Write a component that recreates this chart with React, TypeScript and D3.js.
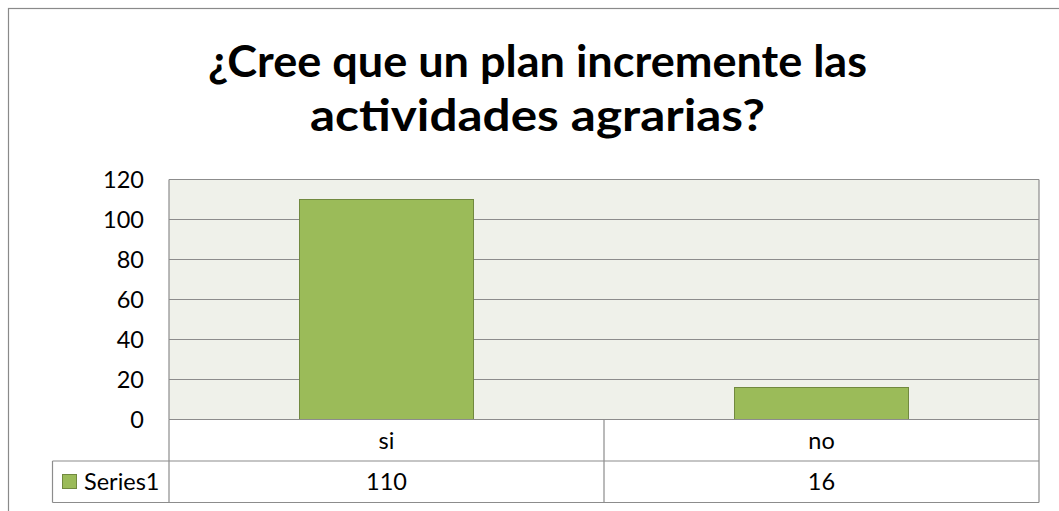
import React from "react";
import * as d3 from "d3";

const titleLines = ["¿Cree que un plan incremente las", "actividades agrarias?"];
const categories = ["si", "no"];
const series1 = [110, 16];
const seriesName = "Series1";
const yTicks = [0, 20, 40, 60, 80, 100, 120];

export default function App() {
  const W = 1059, H = 511;
  const plotL = 169, plotR = 1039, plotT = 179.5, plotB = 419.5;
  const x = d3.scaleBand<string>().domain(categories).range([plotL, plotR]).padding(0);
  const y = d3.scaleLinear().domain([0, 120]).range([plotB, plotT]);
  const row1B = 461, row2B = 502.5, legendL = 52.5;
  const font = "Lato, 'Open Sans', sans-serif";
  const grid = "#8c8c8c";
  const fs = 23.5;
  return (
    <svg width={W} height={H} style={{ position: "fixed", left: 0, top: 0, background: "#fff" }}>
      <rect x={8.5} y={8.5} width={1100} height={600} fill="#fff" stroke="#8a8a8a" strokeWidth={1.2} />
      {titleLines.map((t, i) => (
        <text key={i} x={537.5} y={77 + i * 54} textAnchor="middle" fontFamily={font} fontWeight="bold"
          fontSize={43} fill="#000" textLength={i === 0 ? 659 : 455} lengthAdjust="spacingAndGlyphs">{t}</text>
      ))}
      <rect x={plotL} y={plotT} width={plotR - plotL} height={plotB - plotT} fill="#eff1ea" />
      {yTicks.map((t) => (
        <g key={t}>
          {t > 0 && <line x1={plotL} x2={plotR} y1={y(t)} y2={y(t)} stroke={grid} strokeWidth={1.2} />}
          <text x={144} y={y(t)} dy="0.36em" textAnchor="end" fontFamily={font} fontSize={fs} fill="#000">{t}</text>
        </g>
      ))}
      <line x1={plotL} x2={plotL} y1={plotT} y2={plotB} stroke={grid} strokeWidth={1.2} />
      {categories.map((c, i) => {
        const bw = x.bandwidth() * 0.4;
        const bx = (x(c) as number) + x.bandwidth() * 0.3;
        return (
          <rect key={c} x={bx} y={y(series1[i])} width={bw} height={plotB - y(series1[i])}
            fill="#9bbb59" stroke="#71893f" strokeWidth={1} />
        );
      })}
      <g fill="none" stroke={grid} strokeWidth={1.2}>
        <line x1={plotL} x2={plotR} y1={plotB} y2={plotB} />
        <line x1={legendL} x2={plotR} y1={row1B} y2={row1B} />
        <line x1={legendL} x2={plotR} y1={row2B} y2={row2B} />
        <line x1={legendL} x2={legendL} y1={row1B} y2={row2B} />
        <line x1={plotL} x2={plotL} y1={plotB} y2={row2B} />
        <line x1={plotR} x2={plotR} y1={plotT} y2={row2B} />
        {categories.slice(1).map((c) => (
          <line key={c} x1={x(c) as number} x2={x(c) as number} y1={plotB} y2={row2B} />
        ))}
      </g>
      {categories.map((c, i) => (
        <g key={c}>
          <text x={(x(c) as number) + x.bandwidth() / 2} y={(plotB + row1B) / 2} dy="0.36em" textAnchor="middle"
            fontFamily={font} fontSize={fs} fill="#000">{c}</text>
          <text x={(x(c) as number) + x.bandwidth() / 2} y={(row1B + row2B) / 2} dy="0.36em" textAnchor="middle"
            fontFamily={font} fontSize={fs} fill="#000">{series1[i]}</text>
        </g>
      ))}
      <rect x={62.5} y={474.5} width={14} height={14} fill="#9bbb59" stroke="#71893f" strokeWidth={1} />
      <text x={84} y={(row1B + row2B) / 2} dy="0.36em" fontFamily={font} fontSize={fs} fill="#000">{seriesName}</text>
    </svg>
  );
}
